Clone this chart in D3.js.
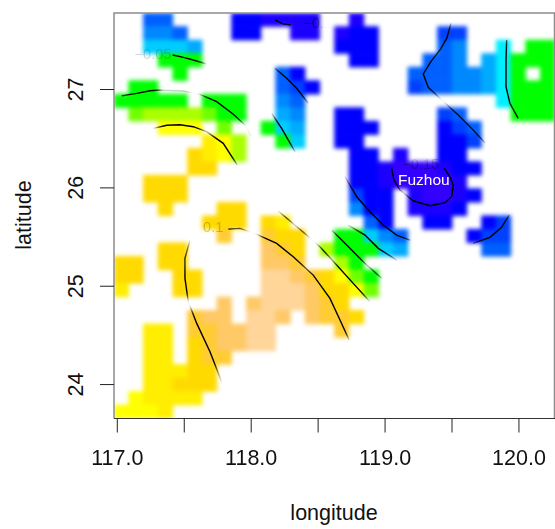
<!DOCTYPE html>
<html><head><meta charset="utf-8">
<style>html,body{margin:0;padding:0;background:#fff}svg{display:block}text{font-family:"Liberation Sans",Arial,sans-serif}</style>
<script src="https://cdnjs.cloudflare.com/ajax/libs/d3/7.8.5/d3.min.js"></script>
</head><body><div id="chart"></div>
<script>
// ---- data ----
const levelCodes  = "abcdefghijklmnopqr".split("");
const levelValues = [-0.17,-0.155,-0.14,-0.125,-0.11,-0.095,-0.08,-0.065,-0.05,-0.03,-0.015,-0.005,0.01,0.02,0.035,0.05,0.075,0.1];
const levelColors = ["#3300ff","#1c00ff","#0000ff","#0040ff","#0060ff","#0088ff","#00aaff","#00ccff","#00eeff","#00ff00","#70ff00","#aaff00","#ffff00","#ffee00","#ffda00","#ffcc33","#ffc966","#ffd599"];
const gridRows = [
"..ee....ccbbbb..b.............",
"..ffe...cc..bb.bcc....dd......",
"..hhhg.........ccc....ef..i.jj",
"...jjj..........cc...eef.gijjj",
"....j......ec.......eeeffgij.j",
".jj........edc......deeffgijjj",
"jjjjj.jjj..fe.............ijjj",
".kllllkjj..gf..cc.....de...jjj",
"...mmm.k..jhg..ccc....cde.....",
"......nml..jh..cc.....ccd.....",
".....onml.......cc.b..cc......",
".....oo.........ccbaaabcc.....",
"..ooo...........ccbaaaab......",
"..ooo...........dcc.baabc.....",
"...o...oo.......fcc.bbbc......",
"......ooo.on.....ec..cc..cd...",
".......p..poo..jjhfe....cdd...",
"...oo.....qpo.ljjjhg.....ee...",
"oo.oo.....qqp..lj.............",
"oo..oo....rrqpomkj............",
"n...oo....rrrqoomk............",
".......q.qrrrqpo..............",
".....pqq.rrq.qppo.............",
"..nn.ppqqrr....p..............",
"..nn.opqqrr...................",
"..nn.opp......................",
"..nnnoo.......................",
"..nnooo.......................",
".mnnnn........................",
"mmmn.........................."
];
const contourA = [[117.417,27.346],[117.497,27.322],[117.571,27.295],[117.671,27.254]];
const contourB = [[117.037,26.932],[117.149,26.956],[117.248,26.983],[117.323,26.990],[117.494,26.983],[117.621,26.946],[117.746,26.871],[117.870,26.743],[117.957,26.634],[118.007,26.515]];
const contourC = [[117.273,26.600],[117.373,26.631],[117.472,26.637],[117.571,26.617],[117.671,26.566],[117.795,26.448],[117.900,26.227]];
const contourD = [[118.181,27.211],[118.269,27.109],[118.343,27.007],[118.430,26.855]];
const contourE = [[118.157,26.753],[118.231,26.600],[118.331,26.362]];
const contourF = [[118.181,27.702],[118.243,27.661],[118.299,27.654]];
const contourG = [[119.496,27.668],[119.464,27.515],[119.414,27.397],[119.346,27.278],[119.289,27.153],[119.326,27.017],[119.401,26.922],[119.550,26.736],[119.650,26.600],[119.750,26.454]];
const contourH = [[119.912,27.498],[119.907,27.295],[119.907,27.023],[119.936,26.855],[119.998,26.702]];
const contourI = [[119.053,26.194],[119.070,26.075],[119.115,25.973],[119.214,25.864],[119.339,25.813],[119.451,25.844],[119.501,25.905],[119.513,26.024],[119.488,26.108],[119.446,26.194]];
const contourJ = [[118.704,26.108],[118.792,25.905],[118.891,25.752],[118.990,25.617],[119.090,25.515],[119.190,25.464]];
const contourK = [[118.729,25.617],[118.854,25.515],[118.953,25.380],[119.090,25.261]];
const contourL = [[118.605,25.566],[118.717,25.413],[118.841,25.244],[118.978,25.075]];
const contourM = [[118.206,25.759],[118.418,25.515],[118.517,25.396],[118.642,25.210],[118.766,25.024],[118.891,24.837]];
const contourN = [[117.833,25.576],[117.920,25.583],[118.045,25.522],[118.194,25.431],[118.318,25.294],[118.467,25.108],[118.592,24.871],[118.667,24.651],[118.736,24.447]];
const contourO = [[117.547,25.464],[117.509,25.278],[117.509,25.075],[117.534,24.837],[117.597,24.617],[117.696,24.329],[117.783,24.023]];
const contourP = [[119.662,25.431],[119.787,25.492],[119.874,25.593],[119.931,25.719]];
const contours = [contourA,contourB,contourC,contourD,contourE,contourF,contourG,contourH,contourI,contourJ,contourK,contourL,contourM,contourN,contourO,contourP];
const fadedLabels = [
  {text:"\u22120.05",lon:117.27,lat:27.345,op:0.16},
  {text:"0.1",lon:117.72,lat:25.585,op:0.2}
];
const maskedLabels = [
  {text:"\u22120.1",lon:118.5,lat:27.66,op:0.5},
  {text:"\u22120.15",lon:119.27,lat:26.225,op:0.35}
];
const cityLabel = {text:"Fuzhou",lon:119.293,lat:26.08};
const xTicks = [117,117.5,118,118.5,119,119.5,120];
const xLabelled = [117,118,119,120];
const yTicks = [24,25,26,27];
const xTitle = "longitude", yTitle = "latitude";

// ---- layout ----
const W=555,H=529,L=114,R=555,T=13,B=418.5;
const svg=d3.select("#chart").append("svg").attr("width",W).attr("height",H);
const x=d3.scaleLinear().domain([116.979,120.273]).range([L,R]);
const y=d3.scaleLinear().domain([23.65,27.773]).range([B,T]);
const col=d3.scaleBand().domain(d3.range(30)).range([L,R]);
const row=d3.scaleBand().domain(d3.range(30)).range([T,B]);
const color=d3.scaleLinear().domain(levelValues).range(levelColors);
const valueOf=c=>levelValues[levelCodes.indexOf(c)];
const cells=[];
gridRows.forEach((s,r)=>s.split("").forEach((c,i)=>{if(c!==".")cells.push({r,i,v:valueOf(c)});}));

const defs=svg.append("defs");
defs.append("clipPath").attr("id","plot").append("rect").attr("x",L).attr("y",T).attr("width",R-L).attr("height",B-T);
const soft=defs.append("filter").attr("id","soft").attr("filterUnits","userSpaceOnUse").attr("x",0).attr("y",0).attr("width",W).attr("height",H).attr("color-interpolation-filters","sRGB");
soft.append("feGaussianBlur").attr("stdDeviation",2);
const softer=defs.append("filter").attr("id","softer").attr("filterUnits","userSpaceOnUse").attr("x",0).attr("y",0).attr("width",W).attr("height",H).attr("color-interpolation-filters","sRGB");
softer.append("feGaussianBlur").attr("stdDeviation",3);
const mask=defs.append("mask").attr("id","onCells").attr("maskUnits","userSpaceOnUse").attr("x",0).attr("y",0).attr("width",W).attr("height",H);
function drawCells(g,fill){
  g.selectAll("rect").data(cells).join("rect")
   .attr("x",d=>col(d.i)-0.3).attr("y",d=>row(d.r)-0.3)
   .attr("width",col.bandwidth()+0.6).attr("height",row.bandwidth()+0.6)
   .attr("fill",fill);
}
drawCells(mask.append("g").attr("filter","url(#softer)"),"#fff");

const plot=svg.append("g").attr("clip-path","url(#plot)");
drawCells(plot.append("g").style("filter","url(#soft)"),d=>color(d.v));
const line=d3.line().x(d=>x(d[0])).y(d=>y(d[1]));
plot.append("g").attr("mask","url(#onCells)").selectAll("path").data(contours).join("path")
  .attr("d",line).attr("fill","none").attr("stroke","#000").attr("stroke-width",1.4);
function labels(g,data){
  g.selectAll("text").data(data).join("text")
   .attr("x",d=>x(d.lon)).attr("y",d=>y(d.lat)).attr("font-size",14.5).attr("text-anchor","middle")
   .attr("dominant-baseline","middle").attr("fill","#000").attr("opacity",d=>d.op).text(d=>d.text);
}
labels(plot.append("g"),fadedLabels);
labels(plot.append("g").attr("mask","url(#onCells)"),maskedLabels);
plot.append("text").attr("x",x(cityLabel.lon)).attr("y",y(cityLabel.lat)).attr("dy",5.5)
  .attr("font-size",15.5).attr("text-anchor","middle").attr("fill","#fff").text(cityLabel.text);

// frame
svg.append("path").attr("d",d3.line()([[L,B],[L,T],[R-0.5,T],[R-0.5,B]])).attr("fill","none").attr("stroke","#8c8c8c").attr("stroke-width",1.5);
svg.append("path").attr("d",d3.line()([[L,B],[R,B]])).attr("stroke","#333").attr("stroke-width",1);

// axes
const ax=svg.append("g").attr("transform",`translate(0,${B})`)
  .call(d3.axisBottom(x).tickValues(xTicks).tickSize(14).tickFormat(d=>xLabelled.includes(d)?d3.format(".1f")(d):""));
ax.select(".domain").remove();
ax.selectAll("line").attr("stroke","#222").attr("stroke-width",1);
ax.selectAll("text").attr("font-size",21.5).attr("fill","#111").attr("y",31).attr("font-family",'"Liberation Sans"');
const ay=svg.append("g").attr("transform",`translate(${L},0)`)
  .call(d3.axisLeft(y).tickValues(yTicks).tickSize(14).tickFormat(d3.format("d")));
ay.select(".domain").remove();
ay.selectAll("line").attr("stroke","#222").attr("stroke-width",1);
ay.selectAll("text").attr("font-size",21.5).attr("fill","#111").attr("font-family",'"Liberation Sans"')
  .attr("text-anchor","middle").attr("dy",0).attr("x",0).attr("y",0)
  .attr("transform","translate(-31,0) rotate(-90)");
svg.append("text").attr("x",334).attr("y",520).attr("text-anchor","middle").attr("font-size",21.5).attr("fill","#111").text(xTitle);
svg.append("text").attr("transform","translate(31,215) rotate(-90)").attr("text-anchor","middle").attr("font-size",21.5).attr("fill","#111").text(yTitle);
</script></body></html>
